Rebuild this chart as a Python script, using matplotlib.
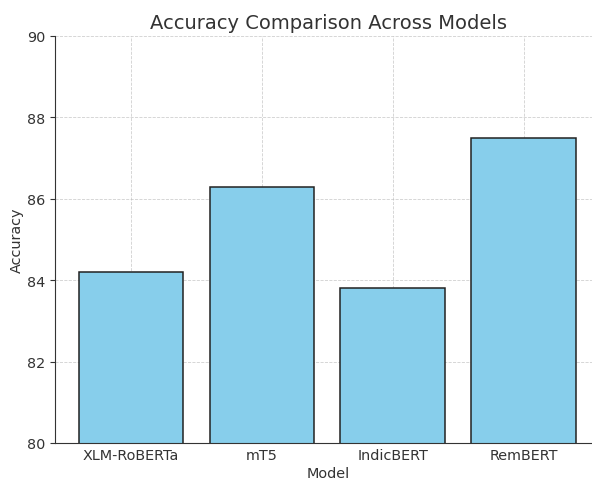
import matplotlib.pyplot as plt

models = ['XLM-RoBERTa', 'mT5', 'IndicBERT', 'RemBERT']
accuracy = [84.2, 86.3, 83.8, 87.5]

fig = plt.figure(figsize=(5.92, 4.81), dpi=100)
ax = fig.add_axes([55/592, 37/481, 546/592, 407/481])

ax.bar(models, accuracy, color='skyblue', edgecolor='#222222', linewidth=1.1, zorder=2)
ax.set_ylim(80, 90)
ax.set_xlim(-0.58, 3.59)
ax.set_yticks([80, 82, 84, 86, 88, 90])
ax.grid(True, linestyle='--', color='#bbbbbb', linewidth=0.6, alpha=0.7, zorder=3)

for s in ['top', 'right']:
    ax.spines[s].set_visible(False)
for s in ['left', 'bottom']:
    ax.spines[s].set_color('#333333')

ax.tick_params(axis='x', direction='in', colors='#333333', labelsize=10.4)
ax.tick_params(axis='y', direction='out', colors='#333333', labelsize=10.4)

ax.set_title('Accuracy Comparison Across Models', fontsize=14, color='#333333', pad=6)
ax.set_xlabel('Model', fontsize=10.4, color='#333333', labelpad=3)
ax.set_ylabel('Accuracy', fontsize=10.4, color='#333333', labelpad=2)

fig.savefig('out.png', dpi=100)
